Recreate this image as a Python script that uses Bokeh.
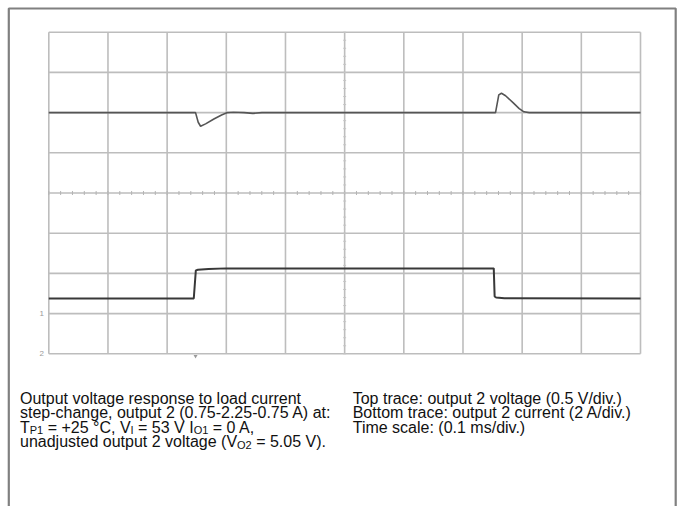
from bokeh.plotting import figure
from bokeh.models import Range1d, ColumnDataSource
from bokeh.core.properties import value
from bokeh.embed import file_html
from bokeh.resources import INLINE

# ---------------- data ----------------
# time axis: 0.1 ms/div, 10 divisions
time_ticks = [0.0, 0.1, 0.2, 0.3, 0.4, 0.5, 0.6, 0.7, 0.8, 0.9, 1.0]
div_ticks = [0, 1, 2, 3, 4, 5, 6, 7, 8]

# top trace: output 2 voltage (V), 0.5 V/div
volt_t = [0.0, 0.248, 0.2525, 0.2565, 0.265, 0.279, 0.292, 0.302, 0.312,
          0.33, 0.345, 0.36, 0.755, 0.7605, 0.765, 0.772, 0.785, 0.795,
          0.803, 0.812, 1.0]
volt_v = [5.05, 5.05, 4.93, 4.88, 4.91, 4.97, 5.02, 5.05, 5.055,
          5.05, 5.04, 5.05, 5.05, 5.27, 5.29, 5.26, 5.17, 5.10,
          5.06, 5.05, 5.05]

# bottom trace: output 2 current (A), 2 A/div
curr_t = [0.0, 0.245, 0.2485, 0.252, 0.27, 0.30, 0.752, 0.7535, 0.756,
          0.77, 1.0]
curr_a = [0.75, 0.75, 2.15, 2.18, 2.22, 2.25, 2.25, 0.85, 0.80, 0.76, 0.75]

trigger_t = 0.248

# caption: segments (text, is_subscript)
caption_left = [
    [("Output voltage response to load current", False)],
    [("step-change, output 2 (0.75-2.25-0.75 A) at:", False)],
    [("T", False), ("P1", True), (" = +25 °C, V", False), ("I", True),
     (" = 53 V I", False), ("O1", True), (" = 0 A,", False)],
    [("unadjusted output 2 voltage (V", False), ("O2", True),
     (" = 5.05 V).", False)],
]
caption_right = [
    [("Top trace: output 2 voltage (0.5 V/div.)", False)],
    [("Bottom trace: output 2 current (2 A/div.)", False)],
    [("Time scale: (0.1 ms/div.)", False)],
]

# ---------------- layout constants (page pixels) ----------------
W, H = 680, 506
X0, X1 = 48.3, 640.0        # px of 0 ms and 1 ms
YB, YT = 353.3, 31.7        # px (from top) of div 0 and div 8
V_REF, V_DIV_POS, V_PER_DIV = 5.05, 6.0, 0.5
A_ZERO_DIV, A_PER_DIV = 1.0, 2.0

tpp = 1.0 / (X1 - X0)
t_start = 0.0 - X0 * tpp
t_end = 1.0 + (W - X1) * tpp
dpp = 8.0 / (YB - YT)
d_start = 0.0 - (H - YB) * dpp
d_end = 8.0 + YT * dpp

p = figure(width=W, height=H, output_backend="svg", toolbar_location=None,
           x_axis_location=None, y_axis_location=None, min_border=0,
           x_range=Range1d(t_start, t_end), y_range=Range1d(d_start, d_end),
           outline_line_color=None, background_fill_color="white",
           border_fill_color="white")
p.xgrid.visible = False
p.ygrid.visible = False
p.extra_x_ranges = {"px": Range1d(0, W)}
p.extra_y_ranges = {
    "px": Range1d(H, 0),
    "volt": Range1d(V_REF + (d_start - V_DIV_POS) * V_PER_DIV,
                    V_REF + (d_end - V_DIV_POS) * V_PER_DIV),
    "amp": Range1d((d_start - A_ZERO_DIV) * A_PER_DIV,
                   (d_end - A_ZERO_DIV) * A_PER_DIV),
}

GRID = "#bdbdbd"
# graticule
p.segment(x0=time_ticks, x1=time_ticks, y0=[0] * len(time_ticks),
          y1=[8] * len(time_ticks), line_color=GRID, line_width=1.6)
p.segment(x0=[0.0] * len(div_ticks), x1=[1.0] * len(div_ticks),
          y0=div_ticks, y1=div_ticks, line_color=GRID, line_width=1.6)
# minor ticks on the centre lines
mt = [i * 0.02 for i in range(51)]
p.segment(x0=mt, x1=mt, y0=[3.95] * len(mt), y1=[4.05] * len(mt),
          line_color="#b4b4b4", line_width=1)
md = [i * 0.2 for i in range(41)]
p.segment(x0=[0.4975] * len(md), x1=[0.5025] * len(md), y0=md, y1=md,
          line_color="#c4c4c4", line_width=1)

# traces
p.line(volt_t, volt_v, y_range_name="volt", line_color="#555555",
       line_width=1.6)
p.line(curr_t, curr_a, y_range_name="amp", line_color="#383838",
       line_width=2)

# channel / trigger markers
p.text(x=[-0.008, -0.008], y=[A_ZERO_DIV, 0.0], text=["1", "2"],
       text_font=value("Liberation Sans"), text_font_size="8px",
       text_color="#9a9a9a", text_align="right", text_baseline="middle")
p.scatter(x=[trigger_t], y=[-0.06], marker="inverted_triangle", size=4,
          fill_color="#9a9a9a", line_color=None)

# outer frame (left, top, right visible)
p.line(x=[8.3, 8.3, 675.2, 675.2], y=[H + 5, 8.0, 8.0, H + 5],
       x_range_name="px", y_range_name="px", line_color="#808080",
       line_width=2.2)

# caption text with subscripts
AW = {' ': 278, '=': 584, '+': 584, '°': 400, ',': 278, '.': 278, '(': 333,
      ')': 333, '-': 333, ':': 278, '/': 278, 'A': 667, 'B': 667, 'C': 722,
      'I': 278, 'O': 778, 'P': 667, 'T': 611, 'V': 667,
      'a': 556, 'b': 556, 'c': 500, 'd': 556, 'e': 556, 'g': 556, 'h': 556,
      'i': 222, 'j': 222, 'l': 222, 'm': 833, 'n': 556, 'o': 556, 'p': 556,
      'r': 333, 's': 500, 't': 278, 'u': 556, 'v': 500}


def tw(s, size):
    return sum(AW.get(c, 556) for c in s) / 1000.0 * size


FS, FSUB, SUBSHIFT = 16, 11, 3.2
BASE = [397.7, 412.1, 426.5, 440.9]
xs, ys, ts, fs = [], [], [], []
for col_x, lines in ((19.5, caption_left), (352.2, caption_right)):
    for li, segs in enumerate(lines):
        cx = col_x
        for txt, sub in segs:
            size = FSUB if sub else FS
            lead = len(txt) - len(txt.lstrip(" "))
            shown = txt.strip(" ")
            xs.append(cx + tw(" " * lead, size))
            ys.append(BASE[li] + (SUBSHIFT if sub else 0))
            ts.append(shown)
            fs.append("%dpx" % size)
            cx += tw(txt, size)

src = ColumnDataSource(dict(x=xs, y=ys, text=ts, fs=fs))
p.text(x="x", y="y", text="text", source=src, x_range_name="px",
       y_range_name="px", text_font=value("Liberation Sans"),
       text_font_size="fs", text_color="#111111", text_align="left",
       text_baseline="alphabetic")

open("out.html", "w").write(file_html(p, INLINE))
